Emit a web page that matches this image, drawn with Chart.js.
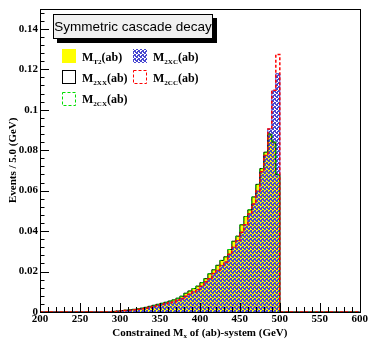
<!DOCTYPE html>
<html>
<head>
<meta charset="utf-8">
<script src="https://cdn.jsdelivr.net/npm/chart.js@4.4.1/dist/chart.umd.min.js"></script>
<style>
  body { margin: 0; background: #fff; }
  #wrap { width: 369px; height: 340px; position: relative; }
</style>
</head>
<body>
<div id="wrap"><canvas id="cascadeChart"></canvas></div>
<script>
const binStart = 200;
const binWidth = 5;

// events / 5 GeV, 80 bins from 200 to 600 GeV
const mT2 = [
    0, 0, 0, 0, 0, 0, 0, 0, 0, 0,
    0, 0, 0, 0, 0, 0, 0, 0, 0.0003, 0.0005,
    0.0007, 0.0009, 0.0011, 0.0013, 0.0016, 0.0019, 0.0023, 0.0028, 0.0033, 0.0038,
    0.0043, 0.0048, 0.0054, 0.0060, 0.0068, 0.0078, 0.0093, 0.0104, 0.0116, 0.0128,
    0.0145, 0.0165, 0.0189, 0.0209, 0.0231, 0.0255, 0.0273, 0.0309, 0.0350, 0.0375,
    0.0431, 0.0472, 0.0505, 0.0569, 0.0631, 0.0709, 0.0790, 0.0880, 0.0840, 0.0680,
    0, 0, 0, 0, 0, 0, 0, 0, 0, 0,
    0, 0, 0, 0, 0, 0, 0, 0, 0, 0
];
const m2XX = [
    0, 0, 0, 0, 0, 0, 0, 0, 0, 0,
    0, 0, 0, 0, 0, 0, 0, 0, 0.0003, 0.0005,
    0.0007, 0.0009, 0.0011, 0.0013, 0.0016, 0.0019, 0.0023, 0.0028, 0.0033, 0.0038,
    0.0043, 0.0048, 0.0054, 0.0060, 0.0068, 0.0078, 0.0093, 0.0104, 0.0116, 0.0128,
    0.0145, 0.0165, 0.0189, 0.0209, 0.0231, 0.0255, 0.0273, 0.0309, 0.0350, 0.0375,
    0.0431, 0.0472, 0.0505, 0.0569, 0.0631, 0.0709, 0.0790, 0.0880, 0.0840, 0.0680,
    0, 0, 0, 0, 0, 0, 0, 0, 0, 0,
    0, 0, 0, 0, 0, 0, 0, 0, 0, 0
];
const m2CX = [
    0, 0, 0, 0, 0, 0, 0, 0, 0, 0,
    0, 0, 0, 0, 0, 0, 0, 0, 0.0003, 0.0005,
    0.0007, 0.0009, 0.0011, 0.0013, 0.0016, 0.0019, 0.0023, 0.0028, 0.0033, 0.0038,
    0.0043, 0.0048, 0.0054, 0.0060, 0.0068, 0.0078, 0.0093, 0.0104, 0.0116, 0.0128,
    0.0145, 0.0165, 0.0189, 0.0209, 0.0231, 0.0255, 0.0273, 0.0309, 0.0350, 0.0375,
    0.0431, 0.0472, 0.0505, 0.0569, 0.0631, 0.0709, 0.0790, 0.0880, 0.0840, 0.0680,
    0, 0, 0, 0, 0, 0, 0, 0, 0, 0,
    0, 0, 0, 0, 0, 0, 0, 0, 0, 0
];
const m2XC = [
    0, 0, 0, 0, 0, 0, 0, 0, 0, 0,
    0, 0, 0, 0, 0, 0, 0, 0, 0.0002, 0.0003,
    0.0005, 0.0007, 0.0009, 0.0011, 0.0013, 0.0016, 0.0019, 0.0023, 0.0027, 0.0032,
    0.0037, 0.0042, 0.0046, 0.0050, 0.0059, 0.0067, 0.0078, 0.0088, 0.0100, 0.0111,
    0.0127, 0.0149, 0.0165, 0.0190, 0.0206, 0.0230, 0.0247, 0.0285, 0.0320, 0.0353,
    0.0394, 0.0431, 0.0485, 0.0534, 0.0598, 0.0693, 0.0774, 0.0905, 0.1093, 0.1178,
    0, 0, 0, 0, 0, 0, 0, 0, 0, 0,
    0, 0, 0, 0, 0, 0, 0, 0, 0, 0
];
const m2CC = [
    0, 0, 0, 0, 0, 0, 0, 0, 0, 0,
    0, 0, 0, 0, 0, 0, 0, 0, 0.0002, 0.0003,
    0.0005, 0.0007, 0.0009, 0.0011, 0.0013, 0.0016, 0.0019, 0.0023, 0.0027, 0.0032,
    0.0037, 0.0042, 0.0046, 0.0050, 0.0059, 0.0067, 0.0078, 0.0088, 0.0100, 0.0111,
    0.0127, 0.0149, 0.0165, 0.0190, 0.0206, 0.0230, 0.0247, 0.0285, 0.0320, 0.0353,
    0.0394, 0.0431, 0.0485, 0.0534, 0.0598, 0.0693, 0.0774, 0.0905, 0.1096, 0.1273,
    0, 0, 0, 0, 0, 0, 0, 0, 0, 0,
    0, 0, 0, 0, 0, 0, 0, 0, 0, 0
];

const xTicks = [200, 250, 300, 350, 400, 450, 500, 550, 600];
const yTicks = [0, 0.02, 0.04, 0.06, 0.08, 0.1, 0.12, 0.14];
const titleText = 'Symmetric cascade decay';
const xTitle = ['Constrained M', 'x', ' of (ab)-system (GeV)'];
const yTitle = 'Events / 5.0 (GeV)';

const serif = '"Liberation Serif", "DejaVu Serif", serif';
const sans = '"Liberation Sans", Arial, sans-serif';

function histPoints(values) {
    const pts = values.map((v, i) => ({ x: binStart + i * binWidth, y: v }));
    pts.push({ x: binStart + values.length * binWidth, y: values[values.length - 1] });
    return pts;
}

const canvas = document.getElementById('cascadeChart');
const ctx = canvas.getContext('2d');

// blue checker fill, open cells let the yellow show through
function makeHatch() {
    const c = document.createElement('canvas');
    c.width = 4; c.height = 4;
    const g = c.getContext('2d');
    g.fillStyle = '#4848d0';
    g.fillRect(0, 0, 2, 2);
    g.fillRect(2, 2, 2, 2);
    g.fillRect(3, 0, 1, 1);
    g.fillRect(1, 3, 1, 1);
    return ctx.createPattern(c, 'repeat');
}
const hatch = makeHatch();

// label like M_T2(ab) with the subscript
function drawMLabel(g, x, y, sub, size) {
    g.font = 'bold ' + size + 'px ' + serif;
    g.fillText('M', x, y);
    let w = g.measureText('M').width;
    g.font = 'bold ' + Math.round(size * 0.62) + 'px ' + serif;
    g.fillText(sub, x + w, y + 3);
    w += g.measureText(sub).width;
    g.font = 'bold ' + size + 'px ' + serif;
    g.fillText('(ab)', x + w, y);
}

const frameTicks = {
    id: 'frameTicks',
    afterDatasetsDraw(chart) {
        const g = chart.ctx;
        const a = chart.chartArea;
        const xs = chart.scales.x, ys = chart.scales.y;
        g.save();
        g.strokeStyle = '#000';
        g.lineWidth = 1;
        g.setLineDash([]);
        g.beginPath();
        for (let v = 200; v <= 600; v += 10) {
            const px = Math.round(xs.getPixelForValue(v)) + 0.5;
            const len = v % 50 === 0 ? 9 : 5;
            g.moveTo(px, a.bottom);
            g.lineTo(px, a.bottom - len);
        }
        for (let k = 0; k <= 37; k++) {
            const v = k * 0.004;
            const py = Math.round(ys.getPixelForValue(v)) + 0.5;
            const len = k % 5 === 0 ? 9 : 4.5;
            g.moveTo(a.left, py);
            g.lineTo(a.left + len, py);
        }
        g.stroke();
        g.strokeRect(Math.round(a.left) + 0.5, Math.round(a.top) + 0.5,
            Math.round(a.right - a.left), Math.round(a.bottom - a.top));

        // axis titles
        g.fillStyle = '#000';
        g.textBaseline = 'alphabetic';
        g.font = 'bold 11px ' + serif;
        const w0 = g.measureText(xTitle[0]).width;
        const w2 = g.measureText(xTitle[2]).width;
        g.font = 'bold 7px ' + serif;
        const w1 = g.measureText(xTitle[1]).width;
        let tx = (a.left + a.right) / 2 - (w0 + w1 + w2) / 2;
        g.font = 'bold 11px ' + serif;
        g.fillText(xTitle[0], tx, 336);
        g.font = 'bold 7px ' + serif;
        g.fillText(xTitle[1], tx + w0, 338);
        g.font = 'bold 11px ' + serif;
        g.fillText(xTitle[2], tx + w0 + w1, 336);

        g.translate(16, (a.top + a.bottom) / 2);
        g.rotate(-Math.PI / 2);
        g.textAlign = 'center';
        g.fillText(yTitle, 0, 0);
        g.restore();
    },
    afterDraw(chart) {
        const g = chart.ctx;
        g.save();
        // title pave with shadow
        g.fillStyle = '#000';
        g.fillRect(57, 18, 160, 25);
        g.fillStyle = '#f0f0f0';
        g.fillRect(53, 14, 160, 25);
        g.strokeStyle = '#000';
        g.lineWidth = 1;
        g.strokeRect(53.5, 14.5, 159, 24);
        g.fillStyle = '#000';
        g.font = '13.5px ' + sans;
        g.textAlign = 'center';
        g.textBaseline = 'middle';
        g.fillText(titleText, 133, 27);

        // legend symbols
        g.fillStyle = '#ffff00';
        g.fillRect(62, 49, 14, 14);
        g.fillStyle = hatch;
        g.fillRect(133, 49, 14, 14);
        g.strokeStyle = '#000';
        g.strokeRect(62.5, 70.5, 13, 13);
        g.setLineDash([3, 2]);
        g.strokeStyle = '#ff0000';
        g.strokeRect(133.5, 70.5, 13, 13);
        g.strokeStyle = '#00dd00';
        g.strokeRect(62.5, 92.5, 13, 13);
        g.setLineDash([]);

        g.fillStyle = '#000';
        g.textAlign = 'left';
        g.textBaseline = 'alphabetic';
        drawMLabel(g, 82, 61, 'T2', 12);
        drawMLabel(g, 153, 61, '2XC', 12);
        drawMLabel(g, 82, 82, '2XX', 12);
        drawMLabel(g, 153, 82, '2CC', 12);
        drawMLabel(g, 82, 103, '2CX', 12);
        g.restore();
    }
};

new Chart(ctx, {
    type: 'line',
    data: {
        datasets: [
            {
                label: 'M_T2(ab)', data: histPoints(mT2), order: 5,
                backgroundColor: '#ffff00', borderColor: '#ffff00', borderWidth: 0,
                fill: 'origin'
            },
            {
                label: 'M_2XC(ab)', data: histPoints(m2XC), order: 4,
                backgroundColor: hatch, borderColor: '#4040d0', borderWidth: 1,
                fill: 'origin'
            },
            {
                label: 'M_2XX(ab)', data: histPoints(m2XX), order: 3,
                borderColor: '#000', borderWidth: 1, fill: false
            },
            {
                label: 'M_2CX(ab)', data: histPoints(m2CX), order: 2,
                borderColor: '#00dd00', borderWidth: 1, borderDash: [3, 2], fill: false
            },
            {
                label: 'M_2CC(ab)', data: histPoints(m2CC), order: 1,
                borderColor: '#ff0000', borderWidth: 1.5, borderDash: [3, 2], fill: false
            }
        ]
    },
    options: {
        responsive: true,
        maintainAspectRatio: false,
        animation: false,
        layout: { padding: { top: 5, right: 8, left: 0, bottom: 0 } },
        elements: {
            line: { stepped: true, tension: 0 },
            point: { radius: 0, hoverRadius: 0 }
        },
        plugins: { legend: { display: false }, tooltip: { enabled: false } },
        scales: {
            x: {
                type: 'linear', min: 200, max: 600,
                grid: { display: false, drawTicks: false, tickLength: 0 },
                border: { display: false },
                afterBuildTicks: s => { s.ticks = xTicks.map(v => ({ value: v })); },
                afterFit: s => { s.height = 28; },
                ticks: {
                    autoSkip: false, maxRotation: 0, padding: 1, color: '#000',
                    font: { family: serif, size: 11, weight: 'bold' },
                    callback: v => String(v)
                }
            },
            y: {
                min: 0, max: 0.15,
                grid: { display: false, drawTicks: false, tickLength: 0 },
                border: { display: false },
                afterBuildTicks: s => { s.ticks = yTicks.map(v => ({ value: v })); },
                afterFit: s => { s.width = 40; },
                ticks: {
                    padding: 2, color: '#000',
                    font: { family: serif, size: 11, weight: 'bold' },
                    callback: v => String(+v.toFixed(2))
                }
            }
        }
    },
    plugins: [frameTicks]
});
</script>
</body>
</html>
